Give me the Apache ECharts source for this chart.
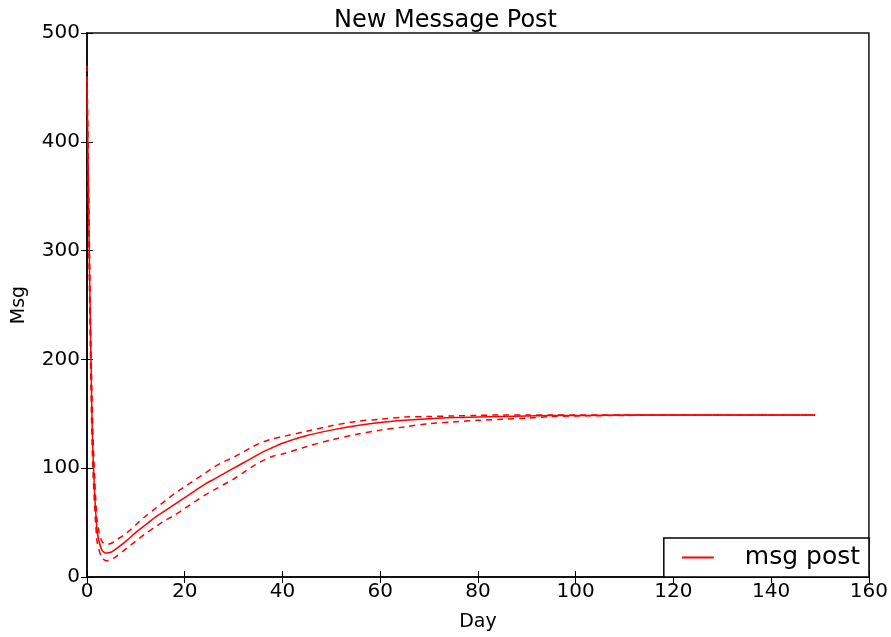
<!DOCTYPE html>
<html>
<head>
<meta charset="utf-8">
<script src="https://cdn.jsdelivr.net/npm/echarts@6/dist/echarts.min.js"></script>
<style>
  html, body { margin: 0; padding: 0; background: #fff; }
  #main { width: 891px; height: 637px; }
</style>
</head>
<body>
<div id="main"></div>
<script>
// days sampled along the curve
let days = [0, 1, 2, 3, 4, 5, 6, 8, 10, 12, 14, 16, 18, 20, 22, 24, 26, 28, 30, 32, 34, 36, 38, 40,
    45, 50, 55, 60, 65, 70, 75, 80, 85, 90, 95, 100, 110, 120, 130, 140, 149];
// mean msg post (solid)
let meanMsg = [460, 150, 45, 25, 22, 23, 26, 33, 41, 48, 55, 61, 67, 73, 79, 85, 90, 95, 100, 105, 110, 115, 119, 123,
    130, 135, 139, 142, 144, 145.5, 146.5, 147, 147.5, 148, 148.5, 148.5, 149, 149, 149, 149, 149];
// upper band (dashed)
let upperMsg = [470, 170, 55, 33, 30, 31, 34, 40, 48, 56, 63, 70, 77, 83, 89, 95, 101, 106, 110, 115, 120, 124, 127, 129,
    134, 139, 143, 145, 147, 147.5, 148, 148.5, 149, 149, 149, 149, 149, 149, 149, 149, 149];
// lower band (dashed)
let lowerMsg = [450, 130, 35, 18, 15, 16, 19, 26, 33, 40, 46, 52, 57, 63, 69, 75, 80, 85, 90, 96, 102, 107, 111, 113,
    120, 126, 131, 135, 138, 141, 142.5, 144, 145, 146, 147.5, 148, 148.5, 149, 149, 149, 149];

let pairs = function (ys) {
    return days.map(function (d, i) { return [d, ys[i]]; });
};

let font = 'DejaVu Sans';
let axisText = { color: '#000', fontFamily: font, fontSize: 20 };
let frame = { color: '#111', width: 1.5 };

let option = {
    animation: false,
    title: {
        text: 'New Message Post',
        left: 'center',
        top: 4,
        textStyle: { color: '#000', fontFamily: font, fontSize: 24, fontWeight: 'normal' }
    },
    grid: {
        left: 87,
        right: 22,
        top: 33,
        bottom: 60,
        show: true,
        borderColor: '#111',
        borderWidth: 1.5
    },
    legend: {
        data: [{ name: 'msg post', icon: 'rect' }],
        right: 22,
        bottom: 60,
        orient: 'horizontal',
        backgroundColor: '#fff',
        borderColor: '#000',
        borderWidth: 1.5,
        borderRadius: 0,
        padding: [7, 9, 7, 18],
        itemWidth: 32,
        itemHeight: 2,
        textStyle: { color: '#000', fontFamily: font, fontSize: 25, padding: [0, 0, 0, 26] }
    },
    xAxis: [
        {
            type: 'value',
            min: 0,
            max: 160,
            interval: 20,
            name: 'Day',
            nameLocation: 'middle',
            nameGap: 36,
            nameTextStyle: { color: '#000', fontFamily: font, fontSize: 19 },
            axisLine: { show: true, lineStyle: frame },
            axisTick: { show: true, inside: true, length: 6, lineStyle: { color: '#000' } },
            axisLabel: Object.assign({ margin: 5 }, axisText),
            splitLine: { show: false }
        },
        {
            type: 'value',
            position: 'top',
            min: 0,
            max: 160,
            interval: 20,
            axisLine: { show: true, lineStyle: frame },
            axisTick: { show: true, inside: true, length: 6, lineStyle: { color: '#000' } },
            axisLabel: { show: false },
            splitLine: { show: false }
        }
    ],
    yAxis: [
        {
            type: 'value',
            min: 0,
            max: 500,
            interval: 100,
            name: 'Msg',
            nameLocation: 'middle',
            nameGap: 58,
            nameTextStyle: { color: '#000', fontFamily: font, fontSize: 19 },
            axisLine: { show: true, lineStyle: frame },
            axisTick: { show: true, inside: true, length: 6, lineStyle: { color: '#000' } },
            axisLabel: Object.assign({ margin: 7 }, axisText),
            splitLine: { show: false }
        },
        {
            type: 'value',
            position: 'right',
            min: 0,
            max: 500,
            interval: 100,
            axisLine: { show: true, lineStyle: frame },
            axisTick: { show: true, inside: true, length: 6, lineStyle: { color: '#000' } },
            axisLabel: { show: false },
            splitLine: { show: false }
        }
    ],
    series: [
        {
            name: 'msg post',
            type: 'line',
            data: pairs(meanMsg),
            showSymbol: false,
            symbol: 'none',
            smooth: 0.3,
            itemStyle: { color: '#ff0000' },
            lineStyle: { color: '#ff0000', width: 1.5 },
            z: 3
        },
        {
            name: 'upper',
            type: 'line',
            data: pairs(upperMsg),
            showSymbol: false,
            symbol: 'none',
            smooth: 0.3,
            lineStyle: { color: '#ff0000', width: 1.5, type: [6, 5] }
        },
        {
            name: 'lower',
            type: 'line',
            data: pairs(lowerMsg),
            showSymbol: false,
            symbol: 'none',
            smooth: 0.3,
            lineStyle: { color: '#ff0000', width: 1.5, type: [6, 5] }
        }
    ]
};

let chart = echarts.init(document.getElementById('main'));
chart.setOption(option);
</script>
</body>
</html>
